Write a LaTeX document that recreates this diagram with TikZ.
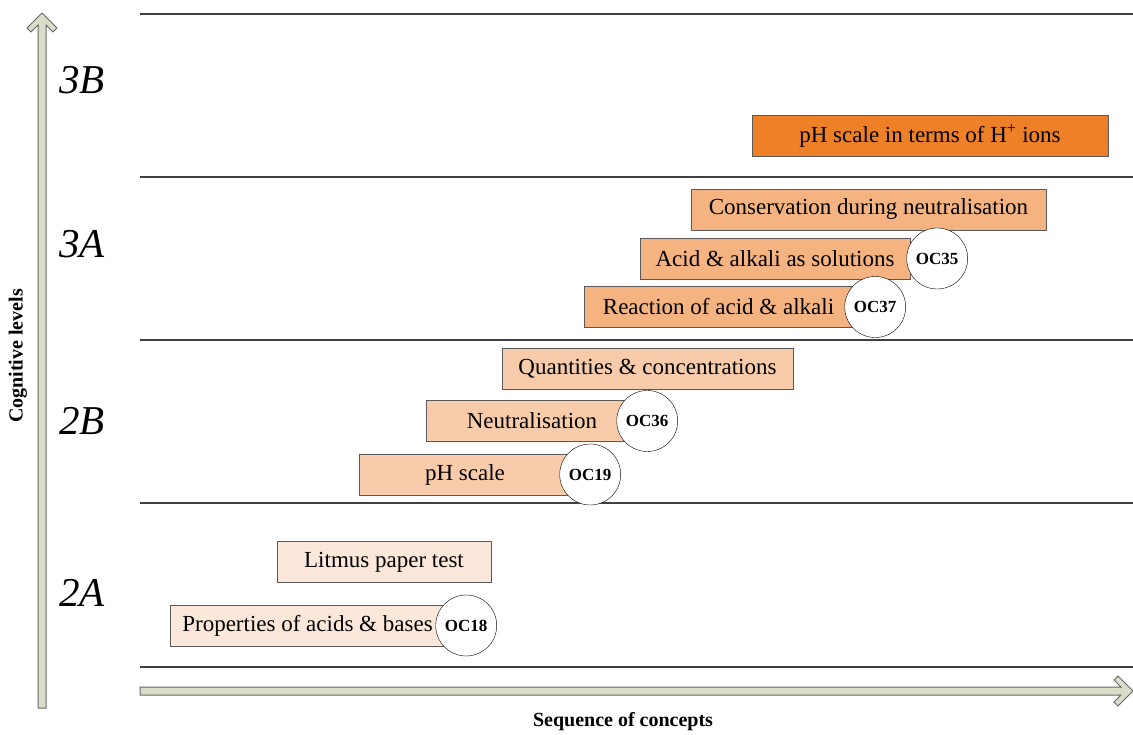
\documentclass[tikz,border=0pt]{standalone}
\usepackage{fontspec}
\setmainfont{Liberation Serif}
\usetikzlibrary{positioning}
\definecolor{deeporange}{HTML}{EE8028}
\definecolor{orange40}{HTML}{F5B381}
\definecolor{orange60}{HTML}{F8CBAA}
\definecolor{orange80}{HTML}{FCE8DA}
\definecolor{sage}{HTML}{DADDC8}
\tikzset{
chart/.style={x=1pt,y=-1pt},
concept/.style={rectangle,draw=black!65,fill=#1,minimum height=41pt,
inner sep=0pt,font=\fontsize{23}{27}\selectfont},
concept/.default={orange60},
outcome/.style={circle,draw,fill=white,minimum size=61pt,inner sep=0pt,
font=\fontsize{17}{19}\selectfont\bfseries},
level/.style={font=\fontsize{41}{45}\selectfont\itshape},
axis label/.style={font=\fontsize{20}{23}\selectfont\bfseries},
block arrow/.style={draw=black!60,fill=sage,line width=1pt},
divider/.style={draw=black!75,line width=1.1pt},
}

\begin{document}
\begin{tikzpicture}[chart]
\useasboundingbox (0,0) rectangle (1133,735);

% level boundaries
\foreach \y in {14,177,340,503,667}
  \draw[divider] (140,\y) -- (1133,\y);

% axes
\draw[block arrow] (38,708) -- (38,25) -- (31,32) -- (27,28) -- (42,13)
  -- (57,28) -- (53,32) -- (46,25) -- (46,708) -- cycle;
\draw[block arrow] (140,687) -- (1121,687) -- (1114,680) -- (1118,676)
  -- (1133,691) -- (1118,706) -- (1114,702) -- (1121,695) -- (140,695) -- cycle;

\node[axis label,rotate=90] (ylab) at (18,356) {Cognitive levels};
\node[axis label] (xlab) at (623,722) {Sequence of concepts};

% levels
\node[level] (l3b) at (82,80) {3B};
\node[level] (l3a) at (82,244) {3A};
\node[level] (l2b) at (82,421) {2B};
\node[level] (l2a) at (82,593) {2A};

% concepts
\node[concept=deeporange,minimum width=356pt] (hions) at (930,136)
  {pH scale in terms of H\textsuperscript{+} ions};
\node[concept=orange40,minimum width=355pt] (conserv) at (868.5,209.5)
  {Conservation during neutralisation};
\node[concept=orange40,minimum width=270pt] (solutions) at (775,258.5)
  {Acid \& alkali as solutions};
\node[concept=orange40,minimum width=269pt] (reaction) at (718.5,307)
  {Reaction of acid \& alkali};
\node[concept,minimum width=291pt] (quant) at (647.5,369)
  {Quantities \& concentrations};
\node[concept,minimum width=212pt] (neutral) at (532,421) {Neutralisation};
\node[concept,minimum width=212pt] (phscale) at (465,474.5) {pH scale};
\node[concept=orange80,minimum width=214pt] (litmus) at (384,562)
  {Litmus paper test};
\node[concept=orange80,minimum width=275pt] (props) at (307.5,625.5)
  {Properties of acids \& bases};

% outcome codes
\node[outcome] (oc35) at ([xshift=27pt]solutions.east) {OC35};
\node[outcome] (oc37) at ([xshift=22pt]reaction.east) {OC37};
\node[outcome] (oc36) at ([xshift=9pt]neutral.east) {OC36};
\node[outcome] (oc19) at ([xshift=19pt]phscale.east) {OC19};
\node[outcome] (oc18) at ([xshift=21pt]props.east) {OC18};
\end{tikzpicture}
\end{document}
